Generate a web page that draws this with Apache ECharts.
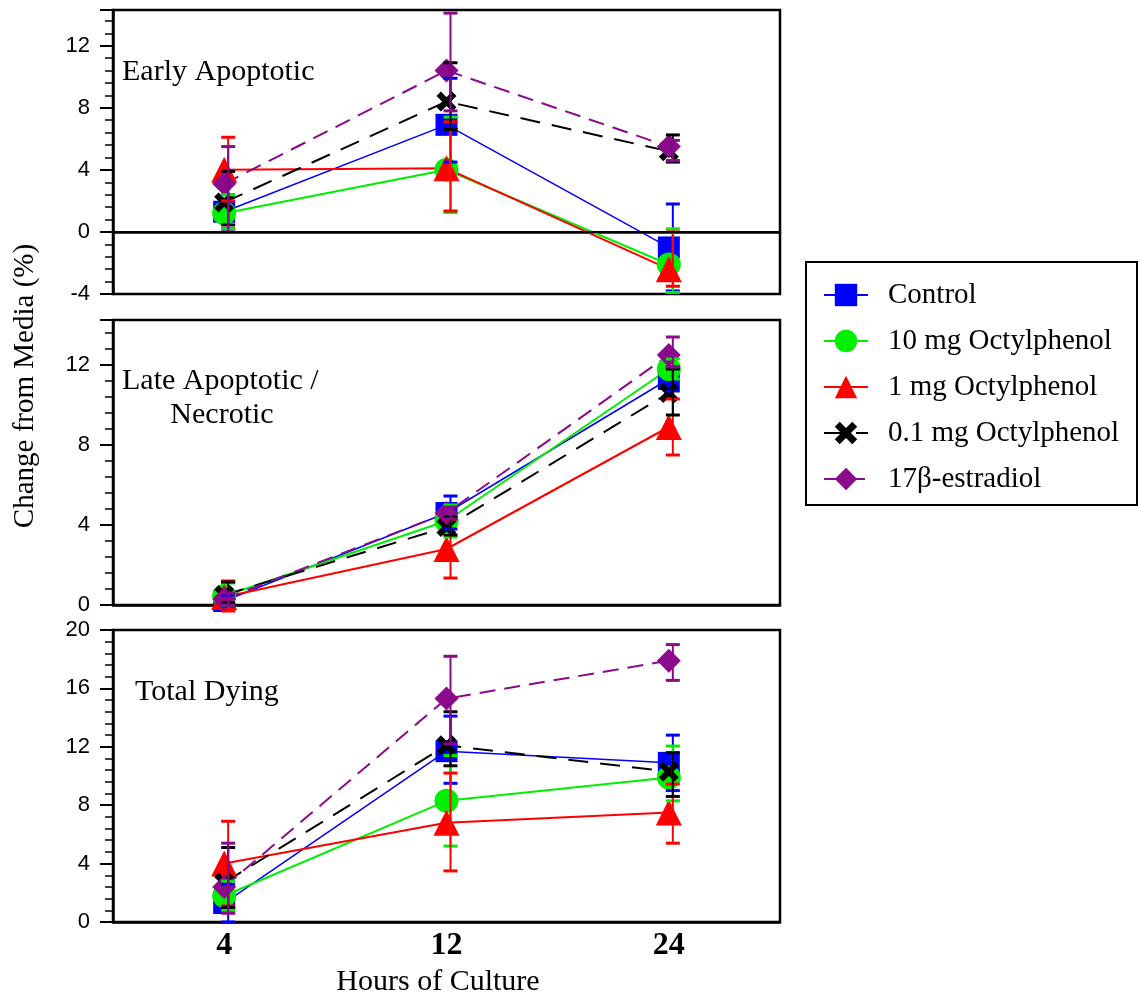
<!DOCTYPE html>
<html>
<head>
<meta charset="utf-8">
<script src="https://cdn.jsdelivr.net/npm/echarts@6/dist/echarts.min.js"></script>
<style>
html,body{margin:0;padding:0;background:#fff;}
#chart{width:1138px;height:995px;}
</style>
</head>
<body>
<div id="chart"></div>
<script>
// ---------- DATA ----------
const hours = ['4', '12', '24'];
const seriesNames = ['Control', '10 mg Octylphenol', '1 mg Octylphenol', '0.1 mg Octylphenol', '17\u03b2-estradiol'];
const panelTitles = ['Early Apoptotic', 'Late Apoptotic /', 'Necrotic', 'Total Dying'];
const yTicks1 = [-4, 0, 4, 8, 12];
const yTicks2 = [0, 4, 8, 12];
const yTicks3 = [0, 4, 8, 12, 16, 20];

// Early apoptotic (mean, lower bar end, upper bar end)
const earlyControl   = [1.3, 6.9, -1.0];
const earlyControlLo = [0.2, 4.5, -3.8];
const earlyControlHi = [2.4, 9.9, 1.8];
const early10   = [1.2, 4.0, -2.1];
const early10Lo = [0.2, 1.25, -3.9];
const early10Hi = [2.4, 7.4, 0.2];
const early1   = [4.0, 4.1, -2.4];
const early1Lo = [2.0, 1.35, -3.5];
const early1Hi = [6.1, 7.1, 0.0];
const early01   = [1.9, 8.4, 5.2];
const early01Lo = [0.45, 6.6, 4.5];
const early01Hi = [3.9, 10.9, 6.25];
const earlyE2   = [3.1, 10.4, 5.5];
const earlyE2Lo = [0.0, 7.8, 4.6];
const earlyE2Hi = [5.5, 14.1, 5.9];

// Late apoptotic / necrotic
const lateControl   = [0.2, 4.6, 11.3];
const lateControlLo = [-0.05, 3.8, 10.7];
const lateControlHi = [0.5, 5.45, 11.9];
const late10   = [0.45, 4.2, 11.8];
const late10Lo = [0.0, 3.4, 11.3];
const late10Hi = [1.1, 5.0, 12.3];
const late1   = [0.4, 2.8, 8.9];
const late1Lo = [-0.3, 1.35, 7.5];
const late1Hi = [1.2, 4.3, 10.3];
const late01   = [0.5, 3.9, 10.6];
const late01Lo = [0.1, 3.5, 9.5];
const late01Hi = [1.15, 4.4, 11.8];
const lateE2   = [0.3, 4.6, 12.5];
const lateE2Lo = [0.0, 4.3, 11.9];
const lateE2Hi = [0.6, 4.9, 13.4];

// Total dying
const totalControl   = [1.3, 11.7, 10.9];
const totalControlLo = [0.0, 9.5, 9.0];
const totalControlHi = [2.6, 14.1, 12.8];
const total10   = [1.8, 8.3, 9.9];
const total10Lo = [0.8, 5.2, 8.3];
const total10Hi = [2.8, 11.4, 12.05];
const total1   = [4.0, 6.8, 7.5];
const total1Lo = [1.1, 3.5, 5.4];
const total1Hi = [6.9, 10.2, 9.45];
const total01   = [2.7, 12.1, 10.3];
const total01Lo = [1.0, 10.7, 8.6];
const total01Hi = [5.1, 14.4, 11.6];
const totalE2   = [2.4, 15.3, 17.9];
const totalE2Lo = [0.6, 12.2, 16.55];
const totalE2Hi = [5.4, 18.2, 19.0];

// ---------- STYLE ----------
const colors = ['#0000ff', '#00ee00', '#ff0000', '#000000', '#8b0a8b'];
const XPATH = 'path://M0,2.2 L2.2,0 L5,2.8 L7.8,0 L10,2.2 L7.2,5 L10,7.8 L7.8,10 L5,7.2 L2.2,10 L0,7.8 L2.8,5 Z';
const symbols = ['rect', 'circle', 'triangle', XPATH, 'diamond'];
const symbolSizes = [22, 24, 26, 20, 24];
const lineTypes = ['solid', 'solid', 'solid', [20, 12], [16, 9]];
const lineWidths = [1.5, 2, 2, 2, 2];

const panels = [
  { vals: [earlyControl, early10, early1, early01, earlyE2],
    lo: [earlyControlLo, early10Lo, early1Lo, early01Lo, earlyE2Lo],
    hi: [earlyControlHi, early10Hi, early1Hi, early01Hi, earlyE2Hi],
    min: -4, max: 14.3, top: 10, height: 284, ticks: yTicks1 },
  { vals: [lateControl, late10, late1, late01, lateE2],
    lo: [lateControlLo, late10Lo, late1Lo, late01Lo, lateE2Lo],
    hi: [lateControlHi, late10Hi, late1Hi, late01Hi, lateE2Hi],
    min: 0, max: 14.25, top: 320, height: 285, ticks: yTicks2 },
  { vals: [totalControl, total10, total1, total01, totalE2],
    lo: [totalControlLo, total10Lo, total1Lo, total01Lo, totalE2Lo],
    hi: [totalControlHi, total10Hi, total1Hi, total01Hi, totalE2Hi],
    min: 0, max: 20, top: 630, height: 292, ticks: yTicks3 }
];

const grids = [], xAxes = [], yAxes = [], series = [];
panels.forEach((p, pi) => {
  grids.push({ left: 113, top: p.top, width: 667, height: p.height, show: true,
               borderColor: '#000', borderWidth: 2.5, backgroundColor: 'transparent' });
  xAxes.push({
    type: 'category', gridIndex: pi, data: hours, boundaryGap: true,
    axisLine: { show: true, lineStyle: { color: '#000', width: 2.5 } },
    axisTick: { show: false },
    splitLine: { show: false },
    axisLabel: { show: pi === 2, color: '#000', fontFamily: 'Liberation Serif', fontWeight: 'bold',
                 fontSize: 32, margin: 8 }
  });
  yAxes.push({
    type: 'value', gridIndex: pi, min: p.min, max: p.max, interval: 4,
    axisLine: { show: true, lineStyle: { color: '#000', width: 2.5 } },
    axisTick: { show: true, inside: false, length: 13, lineStyle: { color: '#000', width: 2 } },
    minorTick: { show: true, splitNumber: 5, length: 8, lineStyle: { color: '#000', width: 1.5 } },
    splitLine: { show: false },
    minorSplitLine: { show: false },
    axisLabel: { color: '#000', fontFamily: 'Liberation Sans', fontSize: 22, margin: 23,
                 showMaxLabel: p.ticks.indexOf(p.max) >= 0,
                 formatter: v => (p.ticks.indexOf(v) >= 0 ? String(v) : '') }
  });
  seriesNames.forEach((name, si) => {
    const s = {
      type: 'line', name: name, xAxisIndex: pi, yAxisIndex: pi,
      data: p.vals[si], symbol: symbols[si], symbolSize: symbolSizes[si],
      itemStyle: { color: colors[si], borderWidth: 0 },
      lineStyle: { color: colors[si], width: lineWidths[si], type: lineTypes[si] },
      emphasis: { disabled: true }, animation: false, z: 3
    };
    if (pi === 0 && si === 0) {
      s.markLine = { silent: true, symbol: 'none', label: { show: false }, animation: false,
        lineStyle: { color: '#000', type: 'solid', width: 2 }, data: [{ yAxis: 0 }] };
    }
    series.push(s);
  });
  seriesNames.forEach((name, si) => {
    const col = colors[si];
    series.push({
      type: 'custom', xAxisIndex: pi, yAxisIndex: pi, animation: false, clip: false, z: 4,
      data: hours.map((h, i) => [i, p.lo[si][i], p.hi[si][i]]),
      encode: { x: 0, y: [1, 2] },
      renderItem: function (params, api) {
        const a = api.coord([api.value(0), api.value(1)]);
        const b = api.coord([api.value(0), api.value(2)]);
        const cx = a[0] + 4, w = 7;
        return { type: 'group', children: [
          { type: 'line', shape: { x1: cx, y1: a[1], x2: cx, y2: b[1] }, style: { stroke: col, lineWidth: 2 } },
          { type: 'line', shape: { x1: cx - w, y1: a[1], x2: cx + w, y2: a[1] }, style: { stroke: col, lineWidth: 3 } },
          { type: 'line', shape: { x1: cx - w, y1: b[1], x2: cx + w, y2: b[1] }, style: { stroke: col, lineWidth: 3 } }
        ] };
      }
    });
  });
});

const serif = 'Liberation Serif';
const chart = echarts.init(document.getElementById('chart'), null, { renderer: 'canvas' });
chart.setOption({
  backgroundColor: '#fff',
  animation: false,
  grid: grids, xAxis: xAxes, yAxis: yAxes, series: series,
  legend: {
    data: seriesNames, orient: 'vertical', left: 823, top: 280, padding: 0,
    itemWidth: 44, itemHeight: 28, itemGap: 16,
    textStyle: { fontFamily: serif, fontSize: 29, color: '#000', lineHeight: 30, padding: [0, 0, 0, 15] }
  },
  graphic: [
    { type: 'rect', shape: { x: 806, y: 262, width: 331, height: 243 }, style: { fill: 'none', stroke: '#000', lineWidth: 2 } },
    { type: 'text', x: 122, y: 72, style: { text: panelTitles[0], font: '30px "Liberation Serif"', fill: '#000', verticalAlign: 'middle' } },
    { type: 'text', x: 122, y: 381, style: { text: panelTitles[1], font: '30px "Liberation Serif"', fill: '#000', verticalAlign: 'middle' } },
    { type: 'text', x: 222, y: 415, style: { text: panelTitles[2], font: '30px "Liberation Serif"', fill: '#000', align: 'center', verticalAlign: 'middle' } },
    { type: 'text', x: 135, y: 692, style: { text: panelTitles[3], font: '30px "Liberation Serif"', fill: '#000', verticalAlign: 'middle' } },
    { type: 'text', x: 438, y: 982, style: { text: 'Hours of Culture', font: '30px "Liberation Serif"', fill: '#000', align: 'center', verticalAlign: 'middle' } },
    { type: 'text', x: 25, y: 386, rotation: Math.PI / 2, style: { text: 'Change from Media (%)', font: '29px "Liberation Serif"', fill: '#000', align: 'center', verticalAlign: 'middle' } }
  ]
});
</script>
</body>
</html>
